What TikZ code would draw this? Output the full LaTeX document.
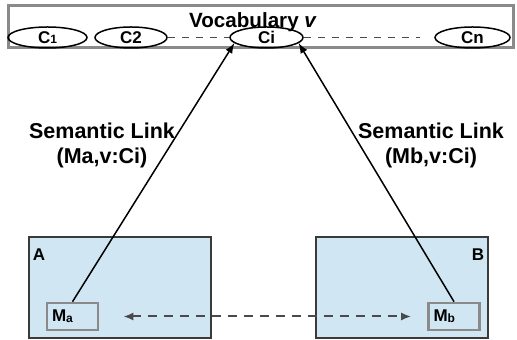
\documentclass[tikz,border=0pt]{standalone}
\usepackage{fontspec}
\setmainfont{Liberation Sans}
\usepackage{tikz}
\usetikzlibrary{arrows}
\usetikzlibrary{arrows.meta}
\usetikzlibrary{shapes}
\usetikzlibrary{shapes.geometric}
\tikzset{>=latex}
\definecolor{vocgrey}{HTML}{8A8A8A}
\definecolor{dashgrey}{HTML}{4A4A4A}
\definecolor{modelblue}{HTML}{D0E6F3}
\definecolor{modeledge}{HTML}{3A3A3A}
\newcommand{\lowidx}[1]{\raisebox{-.3pt}{\fontsize{6}{7}\selectfont #1}}
\tikzstyle{concept} = [ellipse, draw=black, line width=.75pt, inner sep=0pt, minimum height=10.5pt, font=\fontsize{8.5}{9}\selectfont\bfseries]
\tikzstyle{model} = [rectangle, draw=modeledge, fill=modelblue, line width=1pt, minimum height=50.5pt]
\tikzstyle{elem} = [rectangle, draw=vocgrey, line width=1.3pt, minimum height=13.5pt, inner xsep=2.5pt, text width=20.5pt, align=left, font=\fontsize{8.5}{9}\selectfont\bfseries]
\tikzstyle{linklabel} = [align=center, font=\fontsize{10.75}{12.5}\selectfont\bfseries]
\tikzstyle{voclink} = [-, draw=dashgrey, line width=.9pt, dash pattern=on 3.5pt off 3.5pt]

\begin{document}
\begin{tikzpicture}[x=0.5pt, y=-0.5pt]
\useasboundingbox (0, 0) rectangle (517, 340);
% vocabulary with its concepts
\node [rectangle, draw=vocgrey, line width=1.5pt, inner sep=0pt, minimum width=252.5pt, minimum height=21pt] (V) at (260.5, 27) {};
\node [font=\fontsize{10.3}{12}\selectfont\bfseries] (Vt) at (253, 22) {Vocabulary \textit{v}};
\node [concept, minimum width=39.5pt] (C1) at (47.5, 37.5) {C\lowidx{1}};
\node [concept, minimum width=36pt] (C2) at (131, 37.5) {C2};
\node [concept, minimum width=36.5pt] (Ci) at (266.5, 37.5) {Ci};
\node [concept, minimum width=37.5pt] (Cn) at (472.5, 37.5) {Cn};
\coordinate (Cd) at (420, 37.5);
\draw [voclink] (C2) to (Ci);
\draw [voclink] (Ci) to (Cd);
% the two models
\node [model, minimum width=91pt] (A) at (120, 287.5) {};
\node [model, minimum width=86pt] (B) at (402, 287.5) {};
\node [font=\fontsize{8.5}{9}\selectfont\bfseries] (At) at (39, 255) {A};
\node [font=\fontsize{8.5}{9}\selectfont\bfseries] (Bt) at (478, 255) {B};
\node [elem, fill=modelblue] (Ma) at (72.5, 316.5) {M\lowidx{a}};
\node [elem, fill=modelblue] (Mb) at (454, 316.5) {M\lowidx{b}};
% semantic links
\draw [-latex, line width=.75pt] (Ma.north) to (Ci.190);
\draw [-latex, line width=.75pt] (Mb.north) to (Ci.350);
\draw [{Latex[length=5pt, width=4pt]}-{Latex[length=5pt, width=4pt]}, draw=dashgrey, line width=1pt, dash pattern=on 4.5pt off 3.5pt, shorten <=12pt, shorten >=8pt] (Ma.east) to (Mb.west);
\node [linklabel] (La) at (102, 145.5) {Semantic Link\\(Ma,v:Ci)};
\node [linklabel] (Lb) at (431, 145.5) {Semantic Link\\(Mb,v:Ci)};
\end{tikzpicture}
\end{document}
